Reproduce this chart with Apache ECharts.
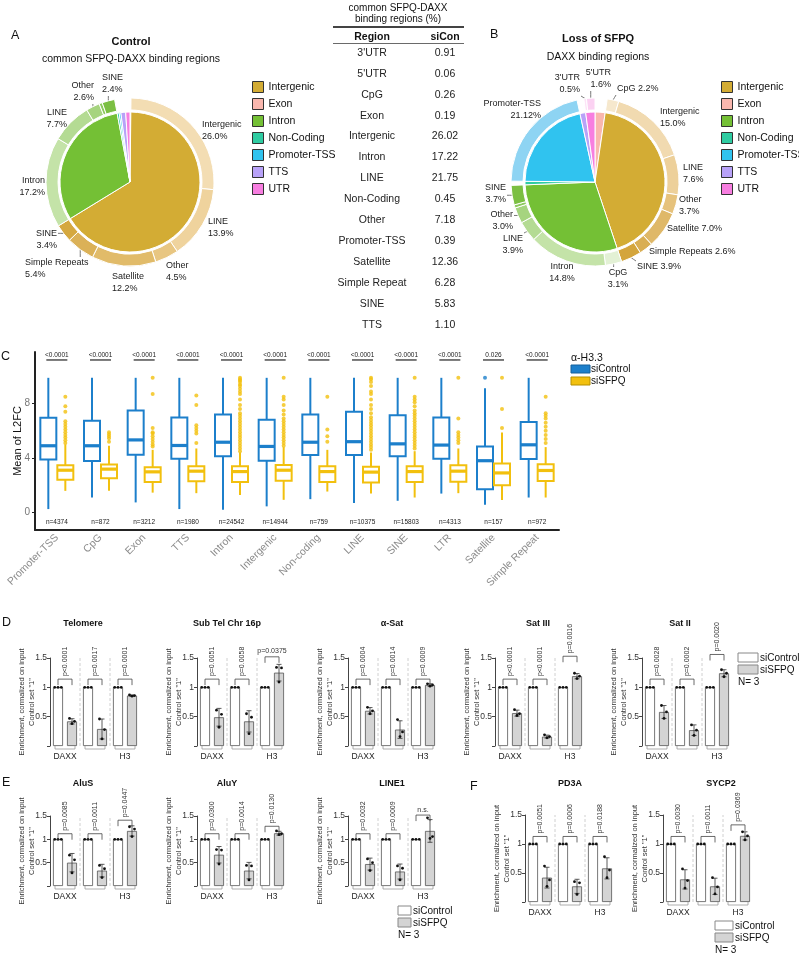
<!DOCTYPE html>
<html>
<head>
<meta charset="utf-8">
<script src="https://cdn.jsdelivr.net/npm/echarts@6/dist/echarts.min.js"></script>
<style>
  html, body { margin: 0; padding: 0; background: #fff; }
  #chart { width: 799px; height: 954px; }
</style>
</head>
<body>
<div id="chart"></div>
<script>
const FONT = 'Liberation Sans, Arial, sans-serif';

// ---------------- A / B : annotation pies ----------------
const annoNames = ['Intergenic', 'Exon', 'Intron', 'Non-Coding', 'Promoter-TSS', 'TTS', 'UTR'];
// inner pie, clockwise from 12 o'clock
const pieOrder = ['Exon', 'Intergenic', 'Intron', 'Non-Coding', 'Promoter-TSS', 'TTS', 'UTR'];
const ctrlInner = [0.19, 65.4, 30.5, 0.45, 0.39, 1.10, 0.97];
const lossInner = [2.3, 42.0, 29.1, 0.8, 21.12, 1.3, 2.1];

// outer ring: repeat classes inside each annotation sector
const ctrlRingIntergenicNames = ['Intergenic', 'LINE', 'Other', 'Satellite', 'Simple Repeats', 'SINE'];
const ctrlRingIntergenicVals = [26.0, 13.9, 4.5, 12.2, 5.4, 3.4];
const ctrlRingIntronNames = ['Intron', 'LINE', 'Other', '', 'SINE'];
const ctrlRingIntronVals = [17.2, 7.7, 2.6, 0.6, 2.4];

const lossRingIntergenicNames = ['CpG', 'Intergenic', 'LINE', 'Other', 'Satellite', 'Simple Repeats', 'SINE'];
const lossRingIntergenicVals = [2.2, 15.0, 7.6, 3.7, 7.0, 2.6, 3.9];
const lossRingIntronNames = ['CpG', 'Intron', 'LINE', 'Other', '', 'SINE'];
const lossRingIntronVals = [3.1, 14.8, 3.9, 3.0, 0.6, 3.7];
const lossRingPromoterNames = ['Promoter-TSS'];
const lossRingPromoterVals = [21.12];
const lossRingUtrNames = ["3'UTR", "5'UTR"];
const lossRingUtrVals = [0.5, 1.6];

// table
const tableRegions = ["3'UTR", "5'UTR", 'CpG', 'Exon', 'Intergenic', 'Intron', 'LINE', 'Non-Coding',
  'Other', 'Promoter-TSS', 'Satellite', 'Simple Repeat', 'SINE', 'TTS'];
const tableSiCon = [0.91, 0.06, 0.26, 0.19, 26.02, 17.22, 21.75, 0.45, 7.18, 0.39, 12.36, 6.28, 5.83, 1.10];

// ---------------- C : boxplots ----------------
const boxCats = ['Promoter-TSS', 'CpG', 'Exon', 'TTS', 'Intron', 'Intergenic', 'Non-coding', 'LINE',
  'SINE', 'LTR', 'Satellite', 'Simple Repeat'];
// [min, Q1, median, Q3, max]
const boxCtrl = [
  [0.24, 3.88, 4.9, 6.96, 9.9], [1.09, 3.78, 4.9, 6.74, 9.9], [0.73, 4.24, 5.33, 7.5, 9.9],
  [0.24, 3.95, 4.92, 6.98, 9.9], [0.19, 4.12, 5.16, 7.2, 9.9], [0.44, 3.8, 4.85, 6.81, 9.9],
  [0.97, 4.22, 5.16, 7.2, 9.9], [0.68, 4.22, 5.2, 7.4, 9.9], [0.85, 4.12, 5.04, 7.15, 9.9],
  [1.38, 3.95, 4.95, 6.98, 9.9], [0.56, 1.7, 3.8, 4.85, 9.14], [1.09, 3.93, 4.97, 6.64, 9.9]
];
const boxSfpq = [
  [1.58, 2.4, 3.1, 3.47, 5.0], [1.58, 2.5, 3.18, 3.52, 4.9], [1.45, 2.23, 2.98, 3.32, 4.6],
  [1.41, 2.28, 3.03, 3.39, 4.7], [1.28, 2.23, 3.0, 3.39, 4.4], [0.92, 2.33, 3.1, 3.49, 4.8],
  [1.53, 2.23, 3.0, 3.39, 4.6], [1.38, 2.2, 2.96, 3.35, 4.4], [1.09, 2.23, 3.0, 3.39, 4.5],
  [1.41, 2.25, 3.03, 3.47, 4.7], [0.9, 1.99, 2.9, 3.59, 5.87], [1.09, 2.3, 3.08, 3.54, 4.8]
];
const outCtrl = [[], [], [], [], [], [], [], [], [], [], [9.9], []];
const outSfpq = [
  [8.5, 7.8, 7.4, 6.7, 6.5, 6.3, 6.1, 5.9, 5.7, 5.5, 5.3, 5.1],
  [5.9, 5.75, 5.6, 5.45, 5.2],
  [9.9, 8.7, 6.2, 5.9, 5.8, 5.6, 5.4, 5.2, 5.0, 4.85],
  [8.6, 7.9, 6.4, 6.2, 6.0, 5.8, 5.1],
  [9.9, 9.8, 9.7, 9.6, 9.4, 9.3, 9.1, 8.9, 8.7, 8.3, 7.9, 7.6, 7.3, 7.1, 6.9, 6.7, 6.5, 6.3, 6.1, 5.9, 5.7, 5.5, 5.3, 5.1, 4.9, 4.7, 4.5],
  [9.9, 8.5, 8.3, 7.9, 7.5, 7.2, 6.9, 6.7, 6.5, 6.3, 6.1, 5.9, 5.7, 5.5, 5.3, 5.1, 4.9],
  [8.5, 6.1, 5.6, 5.2],
  [9.9, 9.8, 9.6, 9.3, 8.9, 8.7, 8.3, 7.9, 7.6, 7.3, 7.0, 6.8, 6.6, 6.4, 6.2, 6.0, 5.8, 5.6, 5.4, 5.2, 5.0, 4.8, 4.6],
  [9.9, 8.5, 8.3, 8.1, 7.8, 7.5, 7.3, 7.1, 6.9, 6.7, 6.5, 6.3, 6.1, 5.9, 5.7, 5.5, 5.3, 5.1, 4.9, 4.7],
  [9.9, 6.9, 5.9, 5.7, 5.5, 5.3, 5.1],
  [9.9, 7.6, 6.2],
  [8.5, 7.3, 7.1, 6.9, 6.6, 6.3, 6.0, 5.7, 5.4, 5.1]
];
const boxP = ['<0.0001', '<0.0001', '<0.0001', '<0.0001', '<0.0001', '<0.0001', '<0.0001', '<0.0001',
  '<0.0001', '<0.0001', '0.026', '<0.0001'];
const boxN = ['n=4374', 'n=872', 'n=3212', 'n=1980', 'n=24542', 'n=14944', 'n=759', 'n=10375',
  'n=15803', 'n=4313', 'n=157', 'n=972'];

// ---------------- D / E / F : ChIP-qPCR ----------------
const qpcrTitles = ['Telomere', 'Sub Tel Chr 16p', 'α-Sat', 'Sat III', 'Sat II', 'AluS', 'AluY', 'LINE1', 'PD3A', 'SYCP2'];
const qpcrGroups = ['DAXX', 'H3.3', 'H3'];
const siControlMean = [1, 1, 1];
const siSFPQMean = [
  [0.42, 0.29, 0.86], [0.49, 0.42, 1.25], [0.60, 0.28, 1.04], [0.56, 0.16, 1.19], [0.58, 0.27, 1.24],
  [0.50, 0.33, 1.18], [0.67, 0.33, 1.13], [0.47, 0.31, 1.18], [0.42, 0.27, 0.58], [0.39, 0.27, 1.14]
];
const siSFPQDots = [
  [[0.47, 0.42, 0.38], [0.46, 0.28, 0.12], [0.87, 0.86, 0.85]],
  [[0.61, 0.54, 0.32], [0.55, 0.49, 0.21], [1.34, 1.33, 1.09]],
  [[0.66, 0.60, 0.55], [0.45, 0.24, 0.16], [1.06, 1.04, 1.02]],
  [[0.62, 0.55, 0.52], [0.19, 0.16, 0.14], [1.24, 1.19, 1.15]],
  [[0.69, 0.58, 0.47], [0.36, 0.27, 0.18], [1.30, 1.24, 1.18]],
  [[0.66, 0.56, 0.28], [0.44, 0.37, 0.18], [1.27, 1.22, 1.06]],
  [[0.78, 0.77, 0.47], [0.44, 0.43, 0.13], [1.18, 1.12, 1.10]],
  [[0.58, 0.50, 0.33], [0.43, 0.38, 0.13], [1.46, 1.06, 1.02]],
  [[0.62, 0.38, 0.27], [0.35, 0.33, 0.13], [0.78, 0.55, 0.42]],
  [[0.57, 0.37, 0.24], [0.42, 0.26, 0.14], [1.21, 1.14, 1.07]]
];
const bracketLevel = [
  [1.14, 1.14, 1.14], [1.14, 1.14, 1.52], [1.14, 1.14, 1.14], [1.14, 1.14, 1.53], [1.14, 1.14, 1.56],
  [1.12, 1.12, 1.41], [1.12, 1.12, 1.28], [1.12, 1.12, 1.52], [1.13, 1.13, 1.13], [1.13, 1.13, 1.33]
];
const pText = [
  ['p<0.0001', 'p=0.0017', 'p=0.0001'], ['p=0.0051', 'p=0.0058', 'p=0.0375'],
  ['p=0.0004', 'p=0.0014', 'p=0.0009'], ['p<0.0001', 'p<0.0001', 'p=0.0016'],
  ['p=0.0028', 'p=0.0002', 'p=0.0020'], ['p=0.0085', 'p=0.0011', 'p=0.0447'],
  ['p=0.0300', 'p=0.0014', 'p=0.0130'], ['p=0.0032', 'p=0.0009', 'n.s.'],
  ['p=0.0051', 'p=0.0006', 'p=0.0188'], ['p=0.0030', 'p=0.0011', 'p=0.0369']
];

// ================= styles / layout =================
const annoColors = {
  'Intergenic': '#d3ac34', 'Exon': '#f9b7ae', 'Intron': '#74c035', 'Non-Coding': '#2fcca2',
  'Promoter-TSS': '#30c3ef', 'TTS': '#b8a2f8', 'UTR': '#f77ee0'
};
const goldShades = ['#f3ddb3', '#efd39d', '#e8c681', '#e1bb69', '#dbb157', '#d5a83f'];
const goldShadesB = ['#f6e8cd', '#f1dab0', '#edd09a', '#e6c27c', '#dfb868', '#d9ae53', '#d4a53c'];
const greenShades = ['#c4e3a8', '#b4db93', '#a6d47f', '#8dca5e', '#7bbf42'];
const greenShadesB = ['#e3f1d5', '#c4e3a8', '#b4db93', '#a6d47f', '#8dca5e', '#7bbf42'];

// ring label placement: dataIndex -> [x, y, align]
const ringLabelPosA = {
  1: [202, 131, 'left'], 2: [208, 228, 'left'], 3: [166, 272, 'left'], 4: [112, 283, 'left'],
  5: [25, 269, 'left'], 6: [57, 240, 'right'], 7: [45, 187, 'right'], 8: [67, 119, 'right'],
  9: [94, 92, 'right'], 11: [102, 84, 'left']
};
const ringLinesA = [5, 6, 9, 11];
const ringLabelPosB = {
  1: [617, 89, 'left'], 2: [660, 118, 'left'], 3: [683, 174, 'left'], 4: [679, 206, 'left'],
  5: [667, 229, 'left'], 6: [649, 252, 'left'], 7: [637, 267, 'left'], 8: [618, 279, 'center'],
  9: [562, 273, 'center'], 10: [523, 245, 'right'], 11: [513, 221, 'right'], 13: [506, 194, 'right'],
  15: [541, 110, 'right'], 17: [580, 84, 'right'], 18: [611, 79, 'right']
};
const ringLinesB = [1, 7, 8, 10, 11, 13, 17, 18];

function fmtPct(v) {
  return (Math.abs(v * 10 - Math.round(v * 10)) < 1e-6 ? v.toFixed(1) : String(v)) + '%';
}
function ringItems(names, vals, colors, oneLine) {
  return vals.map((v, i) => ({
    name: 'ring', value: v,
    lbl: names[i] ? names[i] + (oneLine && oneLine.indexOf(i) >= 0 ? ' ' : '\n') + fmtPct(v) : '',
    itemStyle: { color: colors[i] },
    label: { show: !!names[i] },
    labelLine: { show: false }
  }));
}
function blankItem(v) {
  return { name: 'blank', value: v, itemStyle: { color: 'rgba(0,0,0,0)', borderWidth: 0 },
    label: { show: false }, labelLine: { show: false } };
}
function innerItems(vals) {
  return pieOrder.map((n, i) => ({ name: n, value: vals[i], itemStyle: { color: annoColors[n] } }));
}

const ringA = [blankItem(ctrlInner[0])]
  .concat(ringItems(ctrlRingIntergenicNames, ctrlRingIntergenicVals, goldShades))
  .concat(ringItems(ctrlRingIntronNames, ctrlRingIntronVals, greenShades))
  .concat(ctrlInner.slice(3).map(blankItem));
const ringB = [blankItem(lossInner[0])]
  .concat(ringItems(lossRingIntergenicNames, lossRingIntergenicVals, goldShadesB, [0, 4, 5, 6]))
  .concat(ringItems(lossRingIntronNames, lossRingIntronVals, greenShadesB))
  .concat([blankItem(lossInner[3])])
  .concat(ringItems(lossRingPromoterNames, lossRingPromoterVals, ['#8ed4f3']))
  .concat([blankItem(lossInner[5])])
  .concat(ringItems(lossRingUtrNames, lossRingUtrVals, ['#fde3f7', '#fbd2f2']));
ringLinesA.forEach(i => { ringA[i].labelLine.show = true; });
ringLinesB.forEach(i => { ringB[i].labelLine.show = true; });

function ringLayout(posMap) {
  return function (params) {
    const p = posMap[params.dataIndex];
    if (!p) return {};
    const w = params.labelRect.width, h = params.labelRect.height;
    const rx = p[2] === 'right' ? p[0] - w : (p[2] === 'center' ? p[0] - w / 2 : p[0]);
    const ry = p[1] - h / 2;
    const out = { x: p[0], y: p[1], align: p[2], verticalAlign: 'middle' };
    const lp = params.labelLinePoints;
    if (lp && lp.length) {
      const s = lp[0];
      const ex = Math.min(Math.max(s[0], rx - 1), rx + w + 1);
      const ey = Math.min(Math.max(s[1], ry), ry + h);
      out.labelLinePoints = [s, [(s[0] + ex) / 2, (s[1] + ey) / 2], [ex, ey]];
    }
    return out;
  };
}

// pie view box is widened so outside labels are never truncated
const PIE_SHIFT = 300;
function innerPie(center, vals) {
  return {
    type: 'pie', left: -PIE_SHIFT, top: 0, width: 799 + 2 * PIE_SHIFT, height: 954,
    center: [center[0] + PIE_SHIFT, center[1]], radius: [0, 70], startAngle: 90, silent: true,
    data: innerItems(vals), label: { show: false }, labelLine: { show: false },
    itemStyle: { borderColor: '#fff', borderWidth: 1 }
  };
}
function ringPie(center, data, posMap) {
  return {
    type: 'pie', left: -PIE_SHIFT, top: 0, width: 799 + 2 * PIE_SHIFT, height: 954,
    center: [center[0] + PIE_SHIFT, center[1]], radius: [72, 84], startAngle: 90, silent: true,
    data: data, avoidLabelOverlap: false,
    itemStyle: { borderColor: '#fff', borderWidth: 1 },
    label: { position: 'outside', formatter: p => p.data.lbl, fontSize: 9, lineHeight: 12,
      color: '#222', fontFamily: FONT, overflow: 'none' },
    labelLine: { length: 5, length2: 4, lineStyle: { color: '#555', width: 0.8 } },
    labelLayout: ringLayout(posMap)
  };
}

// ---- C layout ----
const cGrid = { left: 35, top: 352, width: 524, height: 178 };
const cOff = 8.5, cBoxW = 16;

function boxSeries(stats, off, color) {
  return {
    type: 'custom', xAxisIndex: 0, yAxisIndex: 0, z: 3,
    data: stats.map((s, i) => [i].concat(s)),
    encode: { x: 0, y: [1, 2, 3, 4, 5] },
    renderItem: (params, api) => {
      const i = api.value(0);
      const x = api.coord([i, 0])[0] + off;
      const Y = v => api.coord([i, v])[1];
      const yMin = Y(api.value(1)), yQ1 = Y(api.value(2)), yMed = Y(api.value(3)),
        yQ3 = Y(api.value(4)), yMax = Y(api.value(5));
      const st = { stroke: color, lineWidth: 2, fill: null };
      return { type: 'group', children: [
        { type: 'line', shape: { x1: x, y1: yMin, x2: x, y2: yQ1 }, style: st },
        { type: 'line', shape: { x1: x, y1: yQ3, x2: x, y2: yMax }, style: st },
        { type: 'rect', shape: { x: x - cBoxW / 2, y: yQ3, width: cBoxW, height: yQ1 - yQ3 },
          style: { stroke: color, lineWidth: 2, fill: '#fff' } },
        { type: 'line', shape: { x1: x - cBoxW / 2, y1: yMed, x2: x + cBoxW / 2, y2: yMed },
          style: { stroke: color, lineWidth: 3.2 } }
      ] };
    }
  };
}
function outlierSeries(outs, off, color) {
  const pts = [];
  outs.forEach((list, i) => list.forEach(v => pts.push([i, v])));
  return { type: 'scatter', xAxisIndex: 0, yAxisIndex: 0, z: 4, data: pts, symbolSize: 4,
    symbolOffset: [off, 0], itemStyle: { color: color } };
}
const boxAnno = {
  type: 'custom', xAxisIndex: 0, yAxisIndex: 0, z: 5,
  data: boxCats.map((c, i) => [i, 0]),
  renderItem: (params, api) => {
    const i = api.value(0);
    const cx = api.coord([i, 0])[0];
    const yP = api.coord([i, 11.25])[1];
    const yN = api.coord([i, -0.72])[1];
    return { type: 'group', children: [
      { type: 'text', x: cx, y: yP - 1, style: { text: boxP[i], fontSize: 6.5, fill: '#222', fontFamily: FONT,
        align: 'center', verticalAlign: 'bottom' } },
      { type: 'line', shape: { x1: cx - cOff - 2, y1: yP + 0.5, x2: cx + cOff + 2, y2: yP + 0.5 },
        style: { stroke: '#222', lineWidth: 1.2 } },
      { type: 'text', x: cx, y: yN, style: { text: boxN[i], fontSize: 6.5, fill: '#222', fontFamily: FONT,
        align: 'center', verticalAlign: 'middle' } }
    ] };
  }
};

// ---- D/E/F layout: [left, top, height, title y] ----
const qpcrGrid = [
  [50, 658, 88, 624], [197, 658, 88, 624], [348, 658, 88, 624], [495, 658, 88, 624], [642, 658, 88, 624],
  [50, 816, 70, 784], [197, 816, 70, 784], [348, 816, 70, 784], [525, 815, 87, 784], [663, 815, 87, 784]
];
const qpcrTitleX = [83, 227, 392, 538, 680, 83, 227, 392, 570, 721];
const barOff = 7;
const horizontalP = { '1-2': true, '7-2': true };

function sdOf(a) {
  const m = a.reduce((s, v) => s + v, 0) / a.length;
  return Math.sqrt(a.reduce((s, v) => s + (v - m) * (v - m), 0) / (a.length - 1));
}

function qpcrOverlay(k) {
  return {
    type: 'custom', xAxisIndex: k + 1, yAxisIndex: k + 1, z: 5,
    data: qpcrGroups.map((g, i) => [i, 0]),
    renderItem: (params, api) => {
      const g = api.value(0);
      const base = api.coord([g, 0]);
      const cx = base[0], y0 = base[1];
      const band = api.size([1, 0])[0];
      const xC = cx - barOff, xS = cx + barOff;
      const Y = v => api.coord([g, v])[1];
      const ch = [];
      if (g < 2) {
        ch.push({ type: 'line', shape: { x1: cx + band / 2, y1: y0, x2: cx + band / 2, y2: Y(1.5) },
          style: { stroke: '#c4c4c4', lineWidth: 0.8, lineDash: [3, 2] } });
      }
      ch.push({ type: 'polyline', shape: { points: [[xC - 3, y0], [xC - 3, y0 + 3], [xS + 3, y0 + 3], [xS + 3, y0]] },
        style: { stroke: '#999', lineWidth: 0.8, fill: null } });
      [-3.3, 0, 3.3].forEach(dx => ch.push({ type: 'circle',
        shape: { cx: xC + dx, cy: Y(siControlMean[g]), r: 1.4 }, style: { fill: '#111' } }));
      const dots = siSFPQDots[k][g], m = siSFPQMean[k][g], sd = sdOf(dots);
      const yHi = Y(m + sd), yLo = Y(Math.max(0, m - sd));
      const eb = { stroke: '#333', lineWidth: 0.8 };
      ch.push({ type: 'line', shape: { x1: xS, y1: yHi, x2: xS, y2: yLo }, style: eb });
      ch.push({ type: 'line', shape: { x1: xS - 2.5, y1: yHi, x2: xS + 2.5, y2: yHi }, style: eb });
      ch.push({ type: 'line', shape: { x1: xS - 2.5, y1: yLo, x2: xS + 2.5, y2: yLo }, style: eb });
      [-2.5, 2.5, 0].forEach((dx, j) => ch.push({ type: 'circle',
        shape: { cx: xS + dx, cy: Y(dots[j]), r: 1.4 }, style: { fill: '#111' } }));
      const yb = Y(bracketLevel[k][g]);
      ch.push({ type: 'polyline', shape: { points: [[xC, yb + 6], [xC, yb], [xS, yb], [xS, yb + 6]] },
        style: { stroke: '#444', lineWidth: 0.8, fill: null } });
      if (horizontalP[k + '-' + g]) {
        ch.push({ type: 'text', x: cx, y: yb - 2, style: { text: pText[k][g], fontSize: 7, fill: '#333',
          fontFamily: FONT, align: 'center', verticalAlign: 'bottom' } });
      } else {
        ch.push({ type: 'text', x: cx, y: yb - 3, rotation: Math.PI / 2, style: { text: pText[k][g], fontSize: 7,
          fill: '#333', fontFamily: FONT, align: 'left', verticalAlign: 'middle' } });
      }
      return { type: 'group', children: ch };
    }
  };
}

// ================= assemble =================
const grids = [cGrid];
const xAxes = [{
  type: 'category', gridIndex: 0, data: boxCats,
  axisLine: { onZero: false, lineStyle: { color: '#222', width: 2 } },
  axisTick: { show: false },
  axisLabel: { rotate: 45, interval: 0, color: '#8c8c8c', fontSize: 10.5, margin: 6, fontFamily: FONT }
}];
const yAxes = [{
  type: 'value', gridIndex: 0, min: -1.3, max: 11.8,
  axisLine: { show: true, lineStyle: { color: '#222', width: 2 } },
  axisTick: { show: true, customValues: [0, 4, 8], length: 3, lineStyle: { color: '#222' } },
  axisLabel: { customValues: [0, 4, 8], color: '#777', fontSize: 10, margin: 5, fontFamily: FONT },
  splitLine: { show: false },
  name: 'Mean of L2FC', nameLocation: 'middle', nameGap: 12, nameMoveOverlap: false,
  nameTextStyle: { fontSize: 11, color: '#111', fontFamily: FONT }
}];
const series = [
  innerPie([130, 182], ctrlInner), ringPie([130, 182], ringA, ringLabelPosA),
  innerPie([595, 182], lossInner), ringPie([595, 182], ringB, ringLabelPosB),
  boxSeries(boxCtrl, -cOff, '#1c7fcb'), boxSeries(boxSfpq, cOff, '#f2c00e'),
  outlierSeries(outCtrl, -cOff, '#1c7fcb'), outlierSeries(outSfpq, cOff, '#f2c00e'),
  boxAnno
];

qpcrTitles.forEach((t, k) => {
  const [left, top, height] = qpcrGrid[k];
  grids.push({ left: left, top: top, width: 90, height: height });
  xAxes.push({
    type: 'category', gridIndex: k + 1, data: qpcrGroups,
    axisLine: { show: false }, axisTick: { show: false },
    axisLabel: { fontSize: 8.5, color: '#222', margin: 6, fontFamily: FONT }
  });
  yAxes.push({
    type: 'value', gridIndex: k + 1, min: 0, max: 1.5, interval: 0.5,
    axisLine: { show: true, lineStyle: { color: '#444', width: 1 } },
    axisTick: { show: true, length: 3, lineStyle: { color: '#444' } },
    axisLabel: { fontSize: 8.5, color: '#333', margin: 3, fontFamily: FONT, formatter: v => (v === 0 ? '' : String(v)) },
    splitLine: { show: false },
    name: 'Enrichment, cormalized on input\nControl set "1"', nameLocation: 'middle', nameRotate: 90,
    nameGap: 13, nameMoveOverlap: false,
    nameTextStyle: { fontSize: 7.5, color: '#333', lineHeight: 10, fontFamily: FONT }
  });
  series.push({ type: 'bar', xAxisIndex: k + 1, yAxisIndex: k + 1, data: siControlMean, barWidth: 10, barGap: '40%',
    itemStyle: { color: '#fff', borderColor: '#555', borderWidth: 0.8 } });
  series.push({ type: 'bar', xAxisIndex: k + 1, yAxisIndex: k + 1, data: siSFPQMean[k], barWidth: 10, barGap: '40%',
    itemStyle: { color: '#d4d4d4', borderColor: '#555', borderWidth: 0.8 } });
  series.push(qpcrOverlay(k));
});

// ---- text / decorations ----
function T(x, y, text, o) {
  return { type: 'text', x: x, y: y, silent: true,
    style: Object.assign({ text: text, fontSize: 12, fill: '#111', fontFamily: FONT, align: 'left', verticalAlign: 'middle' }, o || {}) };
}
function R(x, y, w, h, fill, stroke) {
  return { type: 'rect', silent: true, shape: { x: x, y: y, width: w, height: h }, style: { fill: fill, stroke: stroke, lineWidth: 1 } };
}
const graphic = [
  T(11, 36, 'A', { fontSize: 12.5 }), T(490, 35, 'B', { fontSize: 12.5 }), T(1, 357, 'C', { fontSize: 12.5 }),
  T(2, 623, 'D', { fontSize: 12.5 }), T(2, 783, 'E', { fontSize: 12.5 }), T(470, 787, 'F', { fontSize: 12.5 }),
  T(131, 42, 'Control', { align: 'center', fontWeight: 'bold', fontSize: 11 }),
  T(131, 59, 'common SFPQ-DAXX binding regions', { align: 'center', fontSize: 10.5 }),
  T(598, 39, 'Loss of SFPQ', { align: 'center', fontWeight: 'bold', fontSize: 11 }),
  T(598, 57, 'DAXX binding regions', { align: 'center', fontSize: 10.5 }),
  // table
  T(398, 8, 'common SFPQ-DAXX', { align: 'center', fontSize: 10 }),
  T(398, 19, 'binding regions (%)', { align: 'center', fontSize: 10 }),
  { type: 'line', silent: true, shape: { x1: 333, y1: 27, x2: 464, y2: 27 }, style: { stroke: '#444', lineWidth: 2 } },
  T(372, 37, 'Region', { align: 'center', fontWeight: 'bold', fontSize: 10.5 }),
  T(445, 37, 'siCon', { align: 'center', fontWeight: 'bold', fontSize: 10.5 }),
  { type: 'line', silent: true, shape: { x1: 333, y1: 43.5, x2: 464, y2: 43.5 }, style: { stroke: '#444', lineWidth: 0.8 } },
  // C legend
  T(571, 358, 'α-H3.3', { fontSize: 10.5 }),
  R(571, 365, 19, 8, '#1c7fcb', '#14609b'), T(591, 369, 'siControl', { fontSize: 10 }),
  R(571, 377, 19, 8, '#f2c00e', '#b58f00'), T(591, 381, 'siSFPQ', { fontSize: 10 }),
  // qPCR legends
  R(738, 653, 20, 9, '#fff', '#888'), T(760, 658, 'siControl', { fontSize: 10 }),
  R(738, 665, 20, 9, '#d4d4d4', '#888'), T(760, 670, 'siSFPQ', { fontSize: 10 }),
  T(738, 682, 'N= 3', { fontSize: 10 }),
  R(398, 906, 13, 9, '#fff', '#888'), T(413, 911, 'siControl', { fontSize: 10 }),
  R(398, 918, 13, 9, '#d4d4d4', '#888'), T(413, 923, 'siSFPQ', { fontSize: 10 }),
  T(398, 935, 'N= 3', { fontSize: 10 }),
  R(715, 921, 18, 9, '#fff', '#888'), T(735, 926, 'siControl', { fontSize: 10 }),
  R(715, 933, 18, 9, '#d4d4d4', '#888'), T(735, 938, 'siSFPQ', { fontSize: 10 }),
  T(715, 950, 'N= 3', { fontSize: 10 })
];
tableRegions.forEach((r, i) => {
  const y = 53 + i * 20.9;
  graphic.push(T(372, y, r, { align: 'center', fontSize: 10.5, fill: '#222' }));
  graphic.push(T(445, y, tableSiCon[i].toFixed(2), { align: 'center', fontSize: 10.5, fill: '#222' }));
});
qpcrTitles.forEach((t, k) => {
  graphic.push(T(qpcrTitleX[k], qpcrGrid[k][3], t, { align: 'center', fontWeight: 'bold', fontSize: 9 }));
});

const legendBase = {
  data: annoNames, orient: 'vertical', top: 76, itemWidth: 11, itemHeight: 11, itemGap: 5,
  icon: 'rect', selectedMode: false,
  itemStyle: { borderColor: '#333', borderWidth: 1 },
  textStyle: { fontSize: 10.5, color: '#111', fontFamily: FONT }
};

const chart = echarts.init(document.getElementById('chart'));
chart.setOption({
  animation: false,
  textStyle: { fontFamily: FONT },
  legend: [Object.assign({ left: 247 }, legendBase), Object.assign({ left: 716 }, legendBase)],
  grid: grids,
  xAxis: xAxes,
  yAxis: yAxes,
  series: series,
  graphic: graphic
});
</script>
</body>
</html>
